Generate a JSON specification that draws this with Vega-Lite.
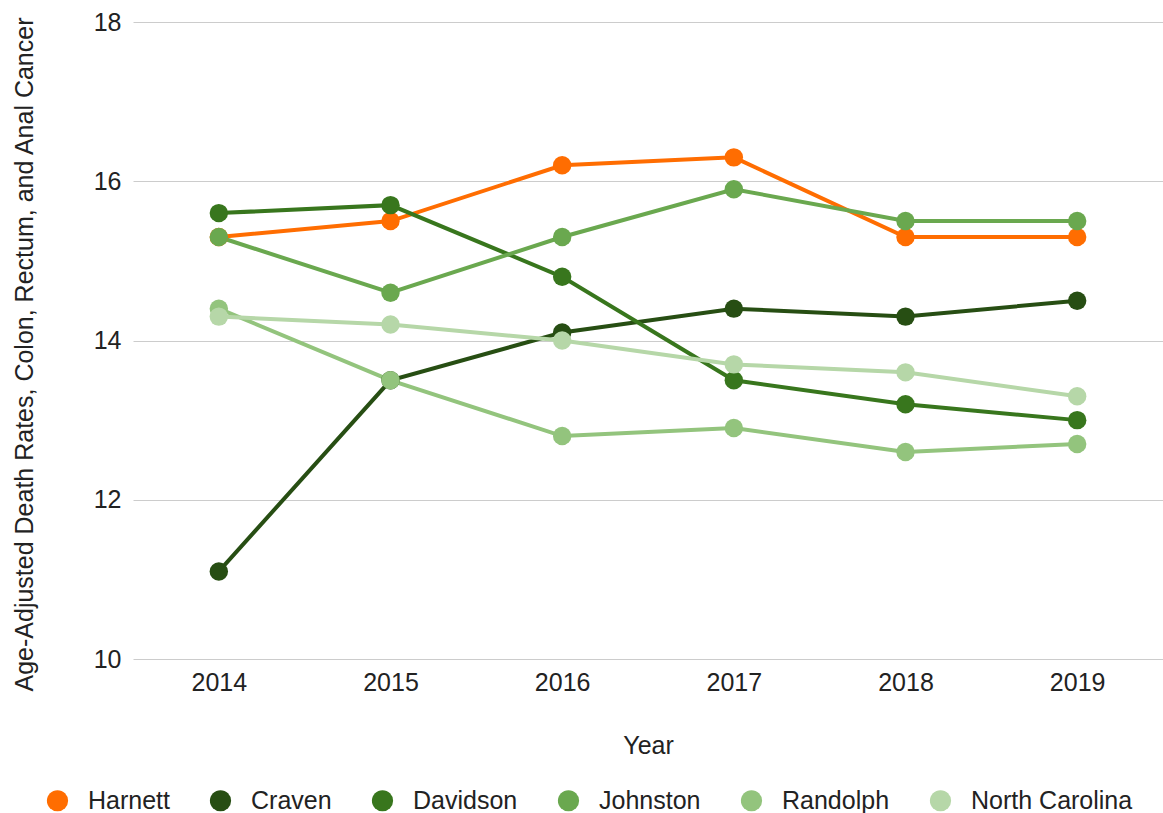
{
  "$schema": "https://vega.github.io/schema/vega-lite/v6.json",
  "width": 1030,
  "height": 637,
  "autosize": {"type": "none"},
  "padding": {"left": 133, "top": 22, "right": 0, "bottom": 154},
  "background": "white",
  "config": {
    "view": {"stroke": null},
    "font": "Liberation Sans"
  },
  "data": {
    "values": [
      {"Year": "2014", "Series": "Harnett", "Rate": 15.3},
      {"Year": "2015", "Series": "Harnett", "Rate": 15.5},
      {"Year": "2016", "Series": "Harnett", "Rate": 16.2},
      {"Year": "2017", "Series": "Harnett", "Rate": 16.3},
      {"Year": "2018", "Series": "Harnett", "Rate": 15.3},
      {"Year": "2019", "Series": "Harnett", "Rate": 15.3},
      {"Year": "2014", "Series": "Craven", "Rate": 11.1},
      {"Year": "2015", "Series": "Craven", "Rate": 13.5},
      {"Year": "2016", "Series": "Craven", "Rate": 14.1},
      {"Year": "2017", "Series": "Craven", "Rate": 14.4},
      {"Year": "2018", "Series": "Craven", "Rate": 14.3},
      {"Year": "2019", "Series": "Craven", "Rate": 14.5},
      {"Year": "2014", "Series": "Davidson", "Rate": 15.6},
      {"Year": "2015", "Series": "Davidson", "Rate": 15.7},
      {"Year": "2016", "Series": "Davidson", "Rate": 14.8},
      {"Year": "2017", "Series": "Davidson", "Rate": 13.5},
      {"Year": "2018", "Series": "Davidson", "Rate": 13.2},
      {"Year": "2019", "Series": "Davidson", "Rate": 13.0},
      {"Year": "2014", "Series": "Johnston", "Rate": 15.3},
      {"Year": "2015", "Series": "Johnston", "Rate": 14.6},
      {"Year": "2016", "Series": "Johnston", "Rate": 15.3},
      {"Year": "2017", "Series": "Johnston", "Rate": 15.9},
      {"Year": "2018", "Series": "Johnston", "Rate": 15.5},
      {"Year": "2019", "Series": "Johnston", "Rate": 15.5},
      {"Year": "2014", "Series": "Randolph", "Rate": 14.4},
      {"Year": "2015", "Series": "Randolph", "Rate": 13.5},
      {"Year": "2016", "Series": "Randolph", "Rate": 12.8},
      {"Year": "2017", "Series": "Randolph", "Rate": 12.9},
      {"Year": "2018", "Series": "Randolph", "Rate": 12.6},
      {"Year": "2019", "Series": "Randolph", "Rate": 12.7},
      {"Year": "2014", "Series": "North Carolina", "Rate": 14.3},
      {"Year": "2015", "Series": "North Carolina", "Rate": 14.2},
      {"Year": "2016", "Series": "North Carolina", "Rate": 14.0},
      {"Year": "2017", "Series": "North Carolina", "Rate": 13.7},
      {"Year": "2018", "Series": "North Carolina", "Rate": 13.6},
      {"Year": "2019", "Series": "North Carolina", "Rate": 13.3}
    ]
  },
  "encoding": {
    "x": {
      "field": "Year",
      "type": "ordinal",
      "scale": {"type": "point", "padding": 0.5},
      "axis": {
        "title": "Year",
        "labelAngle": 0,
        "labelFontSize": 25,
        "labelColor": "#222222",
        "labelPadding": 11,
        "ticks": false,
        "domain": false,
        "grid": false,
        "titleFontSize": 25,
        "titleFontWeight": "normal",
        "titleColor": "#222222",
        "titlePadding": 38
      }
    },
    "y": {
      "field": "Rate",
      "type": "quantitative",
      "scale": {"domain": [10, 18], "nice": false, "zero": false},
      "axis": {
        "title": "Age-Adjusted Death Rates, Colon, Rectum, and Anal Cancer",
        "values": [10, 12, 14, 16, 18],
        "labelFontSize": 25,
        "labelColor": "#222222",
        "labelPadding": 12,
        "ticks": false,
        "domain": false,
        "gridColor": "#cccccc",
        "gridWidth": 1,
        "titleFontSize": 25,
        "titleFontWeight": "normal",
        "titleColor": "#222222",
        "titleX": -109,
        "titleY": 332,
        "titleAngle": -90,
        "titleAlign": "center",
        "titleBaseline": "middle"
      }
    },
    "color": {
      "field": "Series",
      "type": "nominal",
      "scale": {
        "domain": ["Harnett", "Craven", "Davidson", "Johnston", "Randolph", "North Carolina"],
        "range": ["#ff6d01", "#274e13", "#38761d", "#6aa84f", "#93c47d", "#b6d7a8"]
      },
      "legend": {
        "title": null,
        "orient": "none",
        "direction": "horizontal",
        "legendX": -88,
        "legendY": 766,
        "symbolType": "circle",
        "symbolSize": 450,
        "symbolStrokeWidth": 0,
        "symbolOpacity": 1,
        "labelFontSize": 25,
        "labelLimit": 400,
        "labelColor": "#222222",
        "labelOffset": 18,
        "columnPadding": 38
      }
    }
  },
  "layer": [
    {"mark": {"type": "line", "strokeWidth": 4}},
    {"mark": {"type": "circle", "size": 340, "opacity": 1}}
  ]
}
